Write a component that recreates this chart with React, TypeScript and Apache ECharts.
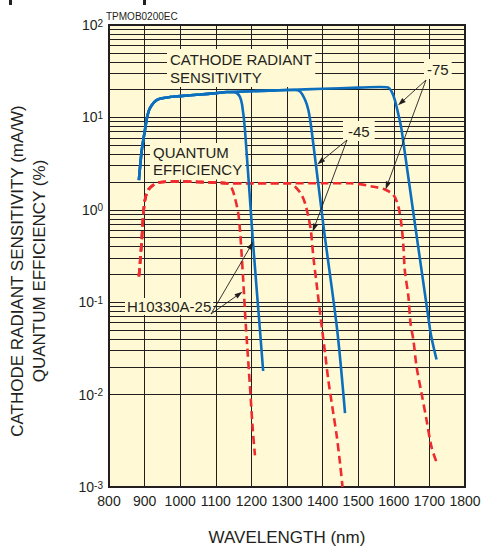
import { useEffect, useRef } from 'react';
import * as echarts from 'echarts';

// Cathode radiant sensitivity (mA/W) against wavelength (nm)
const wlSens25 = [884, 892, 901, 907, 915, 935, 971, 1000, 1056, 1100, 1131, 1150, 1160, 1168, 1174, 1182, 1204, 1224, 1233];
const sens25 = [2.1, 4.4, 7.3, 10, 12.6, 15.5, 16.6, 17.0, 17.7, 18.3, 18.8, 18.7, 18.2, 16.6, 13.6, 7.3, 0.47, 0.05, 0.018];

const wlSens45 = [884, 892, 901, 907, 915, 935, 971, 1000, 1056, 1100, 1131, 1200, 1250, 1300, 1322, 1337, 1351, 1360, 1369, 1404, 1441, 1463];
const sens45 = [2.1, 4.4, 7.3, 10, 12.6, 15.5, 16.6, 17.0, 17.7, 18.3, 18.8, 19.2, 19.5, 19.8, 19.8, 19.0, 15.4, 12, 7.3, 0.6, 0.05, 0.0063];

const wlSens75 = [884, 892, 901, 907, 915, 935, 971, 1000, 1056, 1100, 1131, 1200, 1300, 1400, 1500, 1561, 1584, 1594, 1603, 1610, 1622, 1702, 1720];
const sens75 = [2.1, 4.4, 7.3, 10, 12.6, 15.5, 16.6, 17.0, 17.7, 18.3, 18.8, 19.2, 19.8, 20.4, 21.0, 21.3, 21.1, 19.0, 15.4, 12, 7.3, 0.05, 0.024];

// Quantum efficiency (%) against wavelength (nm)
const wlQe25 = [884, 887, 892, 896, 901, 910, 924, 943, 1000, 1050, 1100, 1131, 1145, 1154, 1163, 1168, 1173, 1177, 1184, 1196, 1204, 1210];
const qe25 = [0.19, 0.26, 0.47, 0.84, 1.28, 1.64, 1.85, 1.99, 2.02, 2.0, 1.97, 1.94, 1.71, 1.33, 0.92, 0.6, 0.31, 0.174, 0.059, 0.0122, 0.0041, 0.0022];

const wlQe45 = [884, 887, 892, 896, 901, 910, 924, 943, 1000, 1050, 1100, 1131, 1200, 1308, 1327, 1341, 1351, 1360, 1367, 1374, 1383, 1393, 1407, 1416, 1430, 1440, 1449, 1456];
const qe45 = [0.19, 0.26, 0.47, 0.84, 1.28, 1.64, 1.85, 1.99, 2.02, 2.0, 1.97, 1.94, 1.94, 1.94, 1.71, 1.45, 1.17, 0.84, 0.6, 0.31, 0.16, 0.076, 0.028, 0.0144, 0.0063, 0.0035, 0.0018, 0.001];

const wlQe75 = [884, 887, 892, 896, 901, 910, 924, 943, 1000, 1050, 1100, 1131, 1200, 1308, 1400, 1477, 1542, 1575, 1599, 1613, 1622, 1627, 1631, 1641, 1647, 1655, 1664, 1678, 1692, 1706, 1719];
const qe75 = [0.19, 0.26, 0.47, 0.84, 1.28, 1.64, 1.85, 1.99, 2.02, 2.0, 1.97, 1.94, 1.94, 1.94, 1.94, 1.94, 1.78, 1.66, 1.45, 1.08, 0.66, 0.4, 0.22, 0.115, 0.059, 0.039, 0.02, 0.0103, 0.0053, 0.0027, 0.0019];

// Callout targets on the curves: [wavelength, value]
const target75Sens = [1612, 13.5];
const target75Qe = [1577, 1.66];
const target45Sens = [1385, 3.1];
const target45Qe = [1372, 0.58];
const target25Sens = [1205, 0.45];
const target25Qe = [1175, 0.13];

const FONT = '"Liberation Sans", Arial, Helvetica, sans-serif';
const INK = '#231F20';
const PAPER = '#FFF9D5';
const BLUE = '#0B6FBE';
const RED = '#EE2B2E';

const pair = (xs: number[], ys: number[]) => xs.map((x, i) => [x, ys[i]]);

export default function App() {
  const ref = useRef<HTMLDivElement>(null);

  useEffect(() => {
    const chart = echarts.init(ref.current!, null, { renderer: 'svg' });

    // log-paper rulings at 2..9 within every decade
    const minorLines: { yAxis: number }[] = [];
    for (let e = -3; e < 2; e++) {
      for (let m = 2; m <= 9; m++) minorLines.push({ yAxis: m * Math.pow(10, e) });
    }

    const sensLine = {
      type: 'line',
      showSymbol: false,
      symbol: 'none',
      smooth: 0.3,
      silent: true,
      z: 5,
      lineStyle: { color: BLUE, width: 2.6 },
    };
    const qeLine = {
      ...sensLine,
      lineStyle: { color: RED, width: 2.6, type: [8, 4.5] },
    };

    chart.setOption({
      animation: false,
      grid: {
        left: 109,
        top: 25,
        right: 16,
        bottom: 60,
        show: true,
        backgroundColor: PAPER,
        borderColor: INK,
        borderWidth: 2,
        containLabel: false,
        outerBoundsMode: 'none',
      },
      xAxis: {
        type: 'value',
        min: 800,
        max: 1800,
        interval: 100,
        axisLine: { show: false },
        axisTick: { show: false },
        splitLine: { show: true, lineStyle: { color: INK, width: 1 } },
        axisLabel: {
          color: INK,
          fontSize: 14,
          fontFamily: FONT,
          margin: 7,
          formatter: (v: number) => String(v),
        },
        name: 'WAVELENGTH (nm)',
        nameLocation: 'middle',
        nameGap: 42,
        nameTextStyle: { color: INK, fontSize: 17, fontFamily: FONT },
      },
      yAxis: {
        type: 'log',
        logBase: 10,
        min: 0.001,
        max: 100,
        splitNumber: 5,
        axisLine: { show: false },
        axisTick: { show: false },
        splitLine: { show: true, lineStyle: { color: INK, width: 1 } },
        axisLabel: {
          margin: 6,
          formatter: (v: number) => `{b|10}{s|${Math.round(Math.log10(v))}}`,
          rich: {
            b: { fontSize: 14, fontFamily: FONT, color: INK, lineHeight: 14 },
            s: { fontSize: 10, fontFamily: FONT, color: INK, lineHeight: 8, verticalAlign: 'top' },
          },
        },
      },
      series: [
        {
          type: 'line',
          data: [],
          silent: true,
          markLine: {
            silent: true,
            z: 1,
            symbol: ['none', 'none'],
            label: { show: false },
            lineStyle: { color: INK, width: 1, type: 'solid' },
            data: minorLines,
          },
        },
        { ...qeLine, name: 'QE H10330A-25', data: pair(wlQe25, qe25) },
        { ...qeLine, name: 'QE H10330A-45', data: pair(wlQe45, qe45) },
        { ...qeLine, name: 'QE H10330A-75', data: pair(wlQe75, qe75) },
        { ...sensLine, name: 'Sens H10330A-25', data: pair(wlSens25, sens25) },
        { ...sensLine, name: 'Sens H10330A-45', data: pair(wlSens45, sens45) },
        { ...sensLine, name: 'Sens H10330A-75', data: pair(wlSens75, sens75) },
      ],
    });

    const px = (p: number[]) => chart.convertToPixel({ gridIndex: 0 }, p) as number[];

    const arrow = (from: number[], to: number[]) => {
      const dx = to[0] - from[0];
      const dy = to[1] - from[1];
      const len = Math.hypot(dx, dy);
      const ux = dx / len;
      const uy = dy / len;
      const headLen = 8;
      const headHalf = 2.6;
      const bx = to[0] - ux * headLen;
      const by = to[1] - uy * headLen;
      return [
        {
          type: 'line',
          silent: true,
          z: 6,
          shape: { x1: from[0], y1: from[1], x2: bx, y2: by },
          style: { stroke: INK, lineWidth: 0.9 },
        },
        {
          type: 'polygon',
          silent: true,
          z: 6,
          shape: {
            points: [
              [to[0], to[1]],
              [bx - uy * headHalf, by + ux * headHalf],
              [bx + uy * headHalf, by - ux * headHalf],
            ],
          },
          style: { fill: INK },
        },
      ];
    };

    const boxText = (text: string, x: number, y: number, padding: number[], lineHeight = 18) => ({
      type: 'text',
      silent: true,
      z: 3,
      x,
      y,
      style: {
        text,
        fontSize: 15,
        fontFamily: FONT,
        fill: INK,
        lineHeight,
        backgroundColor: PAPER,
        padding,
        align: 'left',
        verticalAlign: 'top',
      },
    });

    chart.setOption({
      graphic: [
        boxText('CATHODE RADIANT\nSENSITIVITY', 167, 49, [1, 3, 1, 3]),
        boxText('QUANTUM\nEFFICIENCY', 150, 143, [1, 3, 1, 3], 17.3),
        boxText('-75', 424, 59, [1, 3, 1, 3]),
        boxText('-45', 343, 121, [1, 5, 1, 5]),
        boxText('H10330A-25', 125, 298, [0, 2, 0, 2], 17),
        ...arrow([426, 80], px(target75Sens)),
        ...arrow([426, 80], px(target75Qe)),
        ...arrow([347, 140], px(target45Sens)),
        ...arrow([347, 140], px(target45Qe)),
        ...arrow([211, 314], px(target25Sens)),
        ...arrow([211, 314], px(target25Qe)),
        {
          type: 'text',
          silent: true,
          x: 106,
          y: 16,
          style: {
            text: 'TPMOB0200EC',
            fontSize: 10,
            fontFamily: FONT,
            fill: INK,
            align: 'left',
            verticalAlign: 'middle',
          },
        },
        {
          type: 'text',
          silent: true,
          x: 28,
          y: 271,
          rotation: Math.PI / 2,
          style: {
            text: 'CATHODE RADIANT SENSITIVITY (mA/W)\nQUANTUM EFFICIENCY (%)',
            fontSize: 17,
            fontFamily: FONT,
            fill: INK,
            lineHeight: 22,
            align: 'center',
            verticalAlign: 'middle',
          },
        },
        { type: 'rect', silent: true, shape: { x: 9, y: 0, width: 3, height: 5 }, style: { fill: INK } },
        { type: 'rect', silent: true, shape: { x: 143, y: 0, width: 3, height: 5 }, style: { fill: INK } },
      ],
    });

    return () => chart.dispose();
  }, []);

  return (
    <div
      ref={ref}
      style={{ position: 'absolute', left: 0, top: 0, width: 481, height: 547, background: '#ffffff' }}
    />
  );
}
